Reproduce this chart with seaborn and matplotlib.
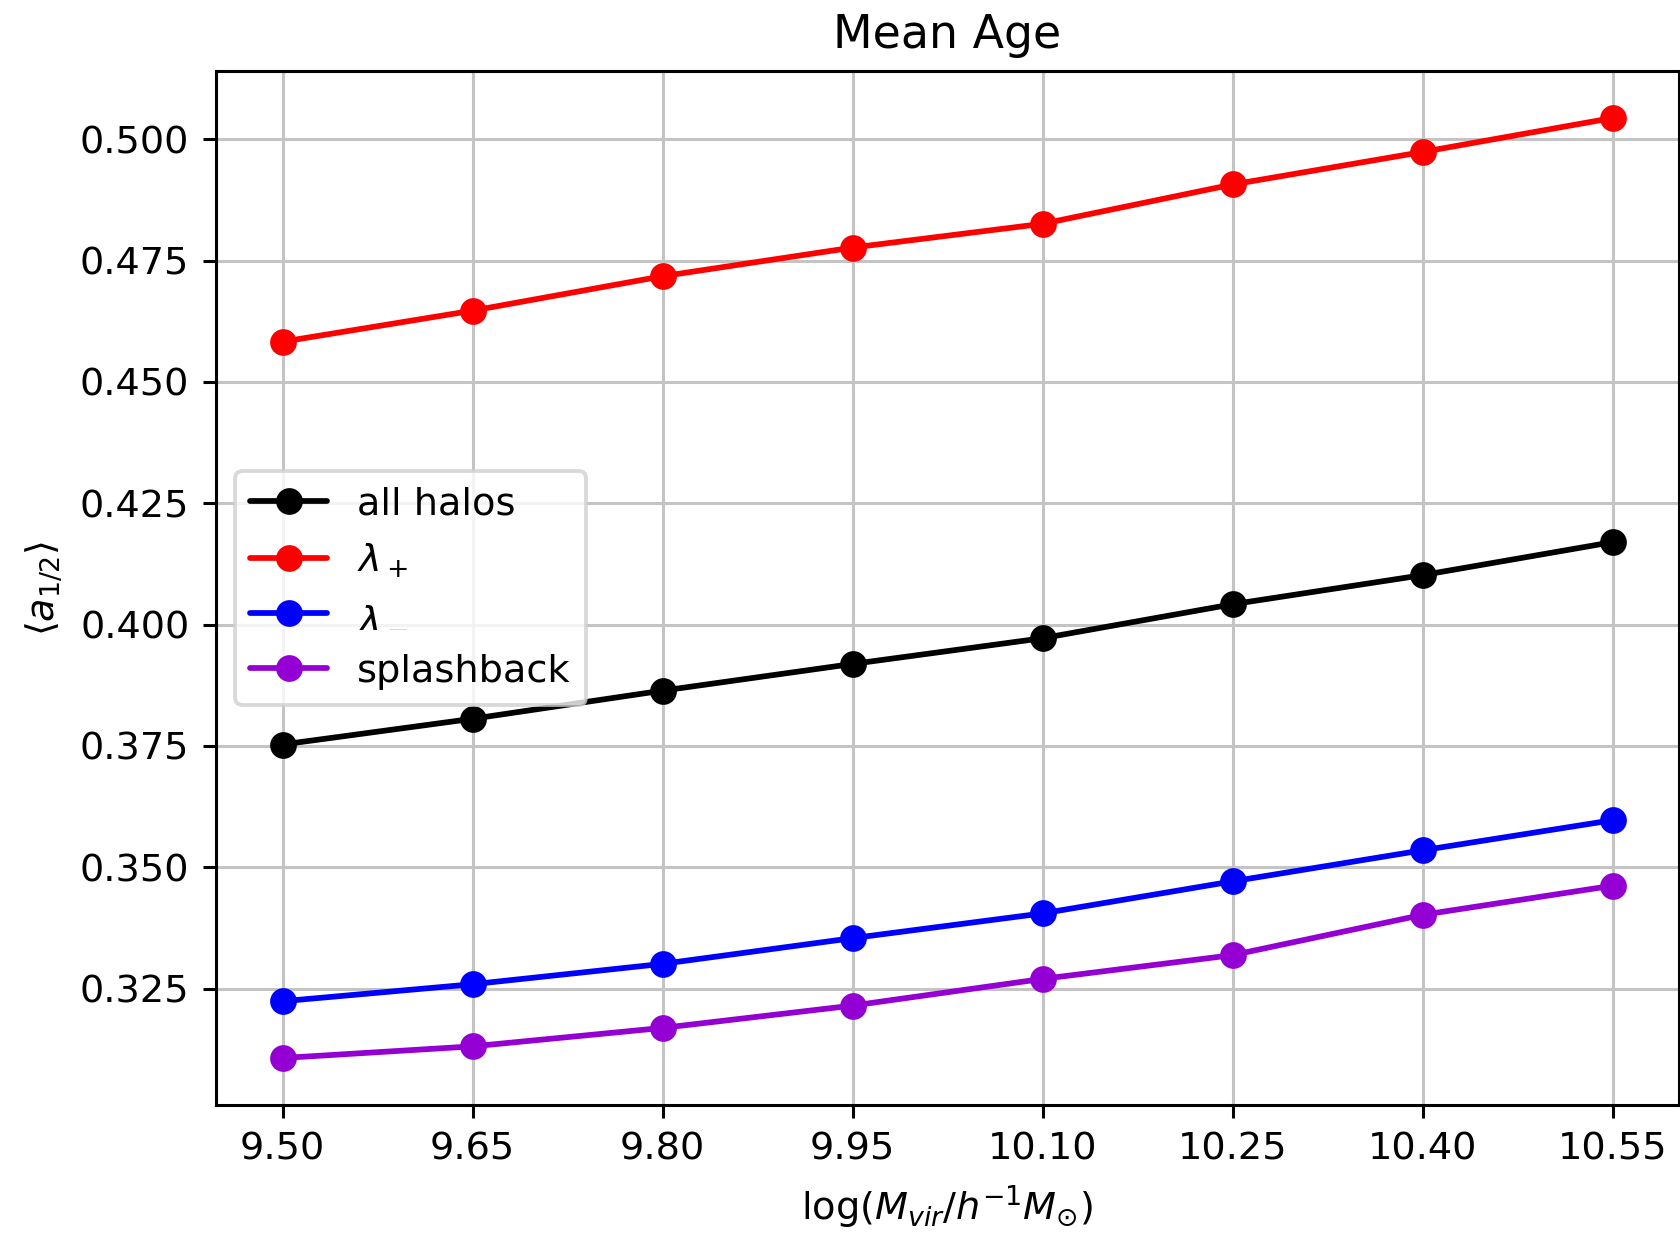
import matplotlib
matplotlib.use("Agg")
import matplotlib.pyplot as plt
import seaborn as sns
import pandas as pd

log_mass = [9.50, 9.65, 9.80, 9.95, 10.10, 10.25, 10.40, 10.55]
all_halos = [0.3753, 0.3806, 0.3864, 0.3919, 0.3972, 0.4042, 0.4102, 0.4170]
lambda_plus = [0.4583, 0.4647, 0.4718, 0.4777, 0.4826, 0.4907, 0.4974, 0.5044]
lambda_minus = [0.3224, 0.3259, 0.3301, 0.3354, 0.3405, 0.3471, 0.3535, 0.3597]
splashback = [0.3107, 0.3131, 0.3169, 0.3215, 0.3270, 0.3319, 0.3402, 0.3462]

series_names = ["all halos", r"$\lambda_+$", r"$\lambda_-$", "splashback"]
series_values = [all_halos, lambda_plus, lambda_minus, splashback]
colors = ["black", "red", "blue", "darkviolet"]
xtick_labels = ["9.50", "9.65", "9.80", "9.95", "10.10", "10.25", "10.40", "10.55"]

sns.set_style("ticks")
plt.rcParams["font.family"] = ["DejaVu Sans"]
plt.rcParams["mathtext.fontset"] = "dejavusans"
plt.rcParams["text.color"] = "black"
plt.rcParams["axes.labelcolor"] = "black"
plt.rcParams["xtick.color"] = "black"
plt.rcParams["ytick.color"] = "black"

dpi = 275
fig = plt.figure(figsize=(1680 / dpi, 1233 / dpi), dpi=dpi)
ax = fig.add_axes([216 / 1680, 1 - 1105 / 1233, (1679 - 216) / 1680, (1105 - 71) / 1233])

for name, vals, c in zip(series_names, series_values, colors):
    df = pd.DataFrame({"x": log_mass, "y": vals})
    sns.lineplot(data=df, x="x", y="y", ax=ax, color=c, label=name,
                 marker="o", markersize=6, markeredgecolor=c,
                 markeredgewidth=1.0, linewidth=1.5)

ax.set_xticks(log_mass)
ax.set_xticklabels(xtick_labels)
ax.grid(True, color="#c4c4c4", linewidth=0.8)
ax.set_axisbelow(True)
for s in ax.spines.values():
    s.set_visible(True)
    s.set_color("black")
    s.set_linewidth(0.8)
ax.tick_params(axis="both", direction="out", length=3.5, width=0.8,
               labelsize=10, color="black", labelcolor="black")

ax.set_title("Mean Age", fontsize=12, color="black")
ax.set_xlabel(r"$\log(M_{vir}/h^{-1}M_{\odot})$", fontsize=10, color="black")
ax.set_ylabel(r"$\langle a_{1/2} \rangle$", fontsize=10, color="black")
ax.margins(x=0.05, y=0.05)

leg = ax.legend(loc="center left", fontsize=10, frameon=True)
leg.get_frame().set_edgecolor("#d0d0d0")
leg.get_frame().set_alpha(0.8)
for t in leg.get_texts():
    t.set_color("black")

fig.savefig("out.png", dpi=dpi)
